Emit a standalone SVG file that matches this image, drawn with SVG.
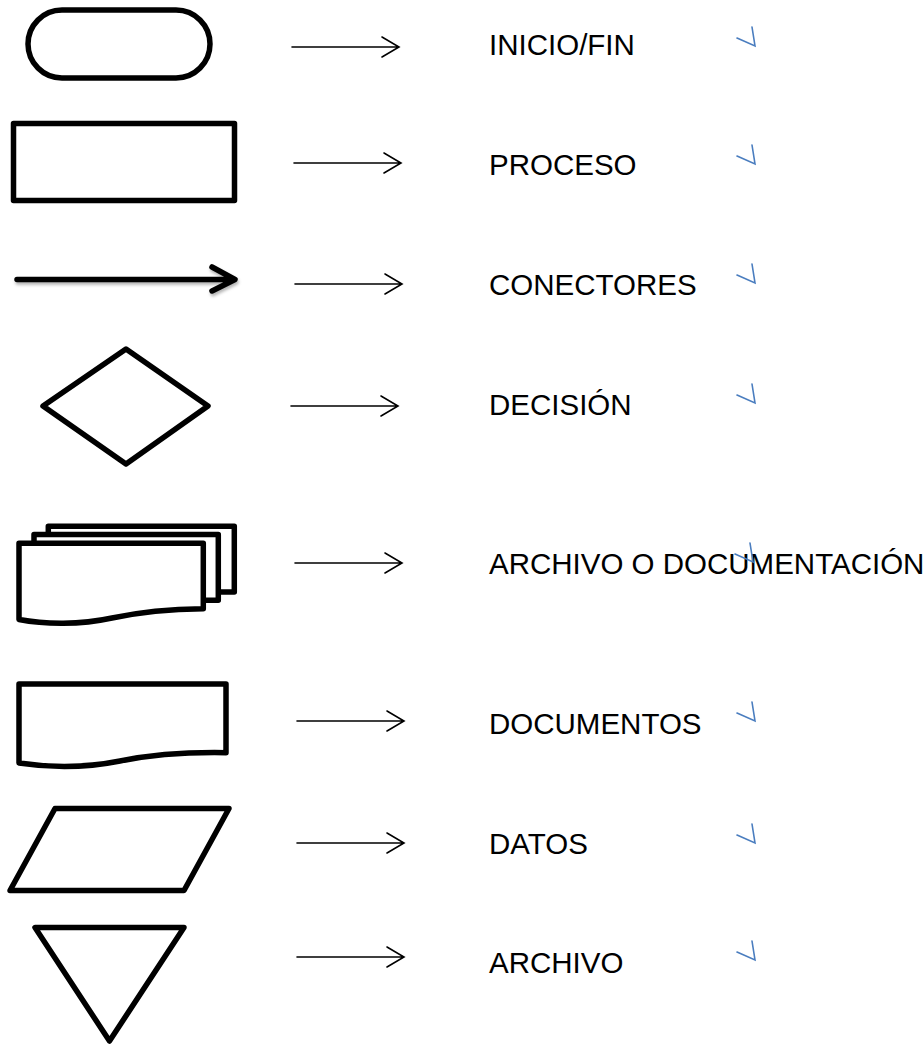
<svg xmlns="http://www.w3.org/2000/svg" width="924" height="1046" viewBox="0 0 924 1046">
  <style>
    .shape { fill: #fff; stroke: #000; stroke-width: 5.5; stroke-linejoin: round; stroke-linecap: round; }
    .thin { fill: none; stroke: #000; stroke-width: 1.6; stroke-linecap: round; stroke-linejoin: miter; }
    .thick { fill: none; stroke: #000; stroke-width: 5.5; stroke-linecap: round; stroke-linejoin: round; }
    .label { font-family: "Liberation Sans", Arial, sans-serif; font-size: 29.5px; fill: #000; }
    .mark { fill: none; stroke: #4a7dbf; stroke-width: 1.6; stroke-linecap: round; stroke-linejoin: miter; }
  </style>
  <defs>
    <filter id="softShadow" x="-10%" y="-60%" width="120%" height="220%">
      <feDropShadow dx="1" dy="2.5" stdDeviation="1.5" flood-color="#000" flood-opacity="0.3"/>
    </filter>
    <!-- open arrow used by every legend row -->
    <path id="pointer" d="M-107,0 H0 M-17,-10 L0,0 L-17,10"/>
    <!-- small blue paragraph tick -->
    <path id="tick" d="M-18,-8 L0,0 L-3,-19"/>
  </defs>

  <rect width="924" height="1046" fill="#fff"/>

  <!-- symbols -->
  <g id="terminal">
    <rect class="shape" x="28" y="10" width="182" height="68" rx="34" ry="34"/>
  </g>
  <g id="process">
    <rect class="shape" x="13.5" y="123.5" width="221" height="77"/>
  </g>
  <g id="connector">
    <g filter="url(#softShadow)">
      <path class="thick" d="M17,279.5 H233 M212,267 L235,279.5 L212,291"/>
    </g>
  </g>
  <g id="decision">
    <polygon class="shape" points="126,349 208,406 126,464 43,406"/>
  </g>
  <g id="multi-document">
    <rect class="shape" x="48.3" y="526.3" width="186" height="65.7"/>
    <rect class="shape" x="34" y="534.6" width="184.3" height="65.7"/>
    <path class="shape" d="M19,543.3 H203.3 V608.7 C170,609 142,611.5 112,618 C80,625 45,624.5 19,619.5 Z"/>
  </g>
  <g id="document">
    <path class="shape" d="M19,684 H226 V752.7 C185,752 155,754 120,761 C85,768 55,768.5 19,763 Z"/>
  </g>
  <g id="data">
    <polygon class="shape" points="55,808.5 229,808.5 184,890.5 10,890.5"/>
  </g>
  <g id="store">
    <polygon class="shape" points="35,927.5 184,927.5 109.5,1041"/>
  </g>

  <!-- connectors between symbols and their names -->
  <g id="connectors" class="thin">
    <use href="#pointer" x="399" y="47"/>
    <use href="#pointer" x="401" y="163"/>
    <use href="#pointer" x="402" y="284"/>
    <use href="#pointer" x="398" y="406"/>
    <use href="#pointer" x="402" y="563"/>
    <use href="#pointer" x="404" y="721"/>
    <use href="#pointer" x="404" y="843"/>
    <use href="#pointer" x="404" y="957"/>
  </g>

  <!-- names -->
  <g id="labels" class="label">
    <text x="489" y="55">INICIO/FIN</text>
    <text x="489" y="175">PROCESO</text>
    <text x="489" y="295">CONECTORES</text>
    <text x="489" y="415">DECISIÓN</text>
    <text x="489" y="574">ARCHIVO O DOCUMENTACIÓN</text>
    <text x="489" y="734">DOCUMENTOS</text>
    <text x="489" y="854">DATOS</text>
    <text x="489" y="973">ARCHIVO</text>
  </g>

  <!-- blue paragraph ticks -->
  <g id="ticks" class="mark">
    <use href="#tick" x="755" y="46"/>
    <use href="#tick" x="755" y="164"/>
    <use href="#tick" x="755" y="283"/>
    <use href="#tick" x="755" y="403"/>
    <use href="#tick" x="753" y="562"/>
    <use href="#tick" x="755" y="721"/>
    <use href="#tick" x="755" y="843"/>
    <use href="#tick" x="755" y="960"/>
  </g>
</svg>
